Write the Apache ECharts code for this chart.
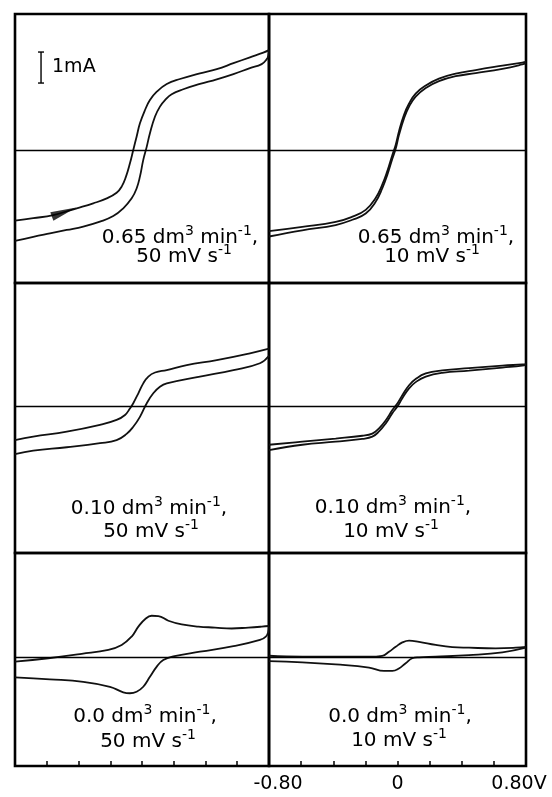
<!DOCTYPE html>
<html><head><meta charset="utf-8">
<script src="https://cdn.jsdelivr.net/npm/echarts@6/dist/echarts.min.js"></script>
<style>html,body{margin:0;padding:0;background:#fff}#c{width:552px;height:797px}</style>
</head><body><div id="c"></div>
<script>
// ---- data (potential V, current mA) ----
const tickValues = [-0.8, 0, 0.8];
const tickLabels = ['-0.80', '0', '0.80V'];

const flowRates = ['0.65', '0.65', '0.10', '0.10', '0.0', '0.0'];
const scanRates = ['50', '10', '50', '10', '50', '10'];

const scaleBar = { v: -0.636, from: 2.16, to: 3.16, label: '1mA' };
const arrowPoint = [[-0.491, -2.0]];

const tlFwd = [[-0.8,-2.28],[-0.685,-2.20],[-0.559,-2.10],[-0.411,-1.88],[-0.307,-1.72],[-0.222,-1.56],[-0.16,-1.38],[-0.128,-1.18],[-0.101,-0.86],[-0.076,-0.43],[-0.055,0],[-0.034,0.43],[-0.013,0.86],[0.019,1.29],[0.05,1.61],[0.093,1.88],[0.156,2.13],[0.239,2.29],[0.365,2.47],[0.471,2.61],[0.576,2.80],[0.68,2.99],[0.764,3.14],[0.8,3.22]];
const tlRev = [[0.8,3.22],[0.796,3.05],[0.786,2.93],[0.754,2.77],[0.68,2.64],[0.576,2.45],[0.471,2.28],[0.365,2.13],[0.26,1.96],[0.187,1.80],[0.145,1.61],[0.113,1.40],[0.082,1.08],[0.05,0.54],[0.03,0.11],[0.008,-0.32],[-0.013,-0.86],[-0.034,-1.24],[-0.065,-1.56],[-0.118,-1.88],[-0.181,-2.13],[-0.265,-2.31],[-0.37,-2.47],[-0.474,-2.58],[-0.58,-2.69],[-0.685,-2.80],[-0.8,-2.93]];

const trFwd = [[-0.8,-2.62],[-0.593,-2.48],[-0.385,-2.32],[-0.281,-2.15],[-0.198,-1.93],[-0.136,-1.55],[-0.095,-1.12],[-0.064,-0.69],[-0.032,-0.16],[-0.011,0.17],[0.009,0.60],[0.04,1.13],[0.072,1.50],[0.113,1.82],[0.176,2.08],[0.258,2.30],[0.362,2.46],[0.487,2.58],[0.653,2.72],[0.777,2.82],[0.8,2.84]];
const trRev = [[0.8,2.80],[0.777,2.76],[0.653,2.62],[0.487,2.48],[0.362,2.38],[0.258,2.22],[0.176,2.00],[0.113,1.72],[0.072,1.40],[0.04,1.01],[0.009,0.48],[-0.011,0.05],[-0.032,-0.28],[-0.064,-0.81],[-0.095,-1.24],[-0.136,-1.67],[-0.198,-2.05],[-0.281,-2.25],[-0.385,-2.42],[-0.593,-2.59],[-0.8,-2.79]];

const mlFwd = [[-0.8,-1.10],[-0.685,-0.99],[-0.474,-0.83],[-0.265,-0.61],[-0.16,-0.45],[-0.107,-0.29],[-0.076,-0.08],[-0.055,0.09],[-0.023,0.41],[0.008,0.73],[0.04,0.95],[0.082,1.08],[0.156,1.16],[0.282,1.32],[0.471,1.48],[0.68,1.70],[0.8,1.85]];
const mlRev = [[0.8,1.62],[0.743,1.38],[0.576,1.16],[0.365,0.95],[0.156,0.73],[0.113,0.62],[0.071,0.41],[0.03,0.09],[-0.013,-0.35],[-0.055,-0.67],[-0.097,-0.90],[-0.16,-1.10],[-0.265,-1.20],[-0.474,-1.33],[-0.685,-1.44],[-0.8,-1.55]];

const mrFwd = [[-0.8,-1.25],[-0.593,-1.15],[-0.385,-1.05],[-0.219,-0.96],[-0.157,-0.89],[-0.115,-0.72],[-0.073,-0.46],[-0.032,-0.13],[-0.001,0.08],[0.03,0.35],[0.072,0.67],[0.113,0.87],[0.176,1.05],[0.279,1.15],[0.445,1.22],[0.653,1.30],[0.777,1.34],[0.8,1.35]];
const mrRev = [[0.8,1.33],[0.777,1.30],[0.653,1.24],[0.445,1.14],[0.279,1.07],[0.176,0.95],[0.113,0.77],[0.072,0.57],[0.03,0.25],[-0.001,-0.02],[-0.032,-0.23],[-0.073,-0.56],[-0.115,-0.82],[-0.157,-0.99],[-0.219,-1.06],[-0.385,-1.15],[-0.593,-1.25],[-0.8,-1.42]];

const blFwd = [[-0.8,-0.15],[-0.59,-0.04],[-0.38,0.10],[-0.212,0.23],[-0.128,0.39],[-0.065,0.66],[-0.023,0.98],[0.019,1.22],[0.061,1.33],[0.103,1.32],[0.166,1.17],[0.25,1.05],[0.355,0.98],[0.46,0.95],[0.565,0.92],[0.67,0.95],[0.754,0.98],[0.8,1.0]];
const blRev = [[0.8,0.98],[0.795,0.80],[0.78,0.66],[0.743,0.55],[0.576,0.35],[0.365,0.17],[0.197,0.02],[0.134,-0.10],[0.093,-0.31],[0.05,-0.64],[0.008,-0.96],[-0.034,-1.12],[-0.076,-1.17],[-0.118,-1.14],[-0.202,-0.96],[-0.37,-0.80],[-0.58,-0.72],[-0.8,-0.66]];

const brFwd = [[-0.8,0.04],[-0.593,0.01],[-0.385,0.01],[-0.177,0.01],[-0.095,0.04],[-0.053,0.17],[-0.011,0.33],[0.03,0.47],[0.072,0.53],[0.134,0.49],[0.238,0.39],[0.341,0.32],[0.445,0.30],[0.611,0.28],[0.736,0.30],[0.8,0.33]];
const brRev = [[0.8,0.30],[0.653,0.15],[0.445,0.06],[0.238,0.01],[0.134,-0.01],[0.092,-0.04],[0.051,-0.20],[0.009,-0.37],[-0.032,-0.45],[-0.084,-0.45],[-0.177,-0.34],[-0.385,-0.24],[-0.593,-0.17],[-0.8,-0.13]];

const panelData = [[tlFwd, tlRev],[trFwd, trRev],[mlFwd, mlRev],[mrFwd, mrRev],[blFwd, blRev],[brFwd, brRev]];

// ---- layout ----
const FONT = 'DejaVu Sans';
const grids = [
  {left:15, top:14, width:254, height:269},
  {left:269, top:14, width:257, height:269},
  {left:15, top:283, width:254, height:270},
  {left:269, top:283, width:257, height:270},
  {left:15, top:553, width:254, height:213},
  {left:269, top:553, width:257, height:213}
];
const yRanges = [[-4.290,4.387],[-4.290,4.387],[-4.742,3.968],[-4.742,3.968],[-3.516,3.355],[-3.516,3.355]];
const labelPos = [
  [[180,236],[184,255]],
  [[436,236],[432,255]],
  [[149,507],[151,530]],
  [[393,506],[391,530]],
  [[145,715],[148,740]],
  [[400,715],[399,739]]
];

const chart = echarts.init(document.getElementById('c'), null, {renderer:'canvas'});

const xAxes = grids.map((g, i) => {
  const bottom = i >= 4;
  const labels = i === 5;
  return {
    type:'value', gridIndex:i, min:-0.8, max:0.8, interval:0.2, position:'bottom',
    axisLine:{show:false, onZero:false}, splitLine:{show:false},
    axisTick:{show:bottom, inside:true, length:5, lineStyle:{color:'#000', width:1.5}},
    axisLabel:{
      show:labels, margin:9, showMinLabel:true, showMaxLabel:true,
      fontFamily:FONT, fontSize:19, color:'#000',
      formatter:function(v){
        for (let k=0;k<tickValues.length;k++){
          if (Math.abs(v-tickValues[k])<1e-6) return '{' + ['l','m','r'][k] + '|' + tickLabels[k] + '}';
        }
        return '';
      },
      rich:{
        l:{fontFamily:FONT, fontSize:19, color:'#000', padding:[0,0,0,18]},
        m:{fontFamily:FONT, fontSize:19, color:'#000'},
        r:{fontFamily:FONT, fontSize:19, color:'#000', padding:[0,14,0,0]}
      }
    }
  };
});
const yAxes = grids.map((g, i) => ({type:'value', gridIndex:i, min:yRanges[i][0], max:yRanges[i][1], show:false}));

const series = [];
panelData.forEach((pair, i) => {
  pair.forEach((d, j) => {
    const s = {
      type:'line', xAxisIndex:i, yAxisIndex:i, data:d, smooth:0.45,
      showSymbol:false, symbol:'none', silent:true,
      lineStyle:{color:'#111', width:1.8}
    };
    if (j === 0) {
      s.markLine = {silent:true, symbol:'none', label:{show:false}, animation:false,
        lineStyle:{color:'#000', width:1.4, type:'solid'}, data:[{yAxis:0}]};
    }
    series.push(s);
  });
});
series.push({type:'scatter', xAxisIndex:0, yAxisIndex:0, data:arrowPoint,
  symbol:'path://M0,0 L26,4.5 L0,9 Z', symbolSize:[26,9], symbolRotate:20,
  itemStyle:{color:'#000'}, silent:true, z:5});

chart.setOption({
  animation:false,
  backgroundColor:'#fff',
  grid: grids.map(g => Object.assign({show:true, borderColor:'#000', borderWidth:2.6, backgroundColor:'transparent', containLabel:false}, g)),
  xAxis:xAxes, yAxis:yAxes, series:series
});

// annotations
const graphics = [];
const rich = {
  n:{fontFamily:FONT, fontSize:20, lineHeight:23, fill:'#000', verticalAlign:'bottom'},
  s:{fontFamily:FONT, fontSize:14, lineHeight:15, fill:'#000', verticalAlign:'top'}
};
labelPos.forEach((lp, i) => {
  const t1 = '{n|' + flowRates[i] + ' dm}{s|3}{n| min}{s|-1}{n|,}';
  const t2 = '{n|' + scanRates[i] + ' mV s}{s|-1}';
  [t1, t2].forEach((t, k) => {
    graphics.push({type:'text', x:lp[k][0], y:lp[k][1], silent:true,
      style:{text:t, rich:rich, align:'center', verticalAlign:'middle', fill:'#000', font:'20px ' + FONT}});
  });
});
// scale bar via library scale
const pLo = chart.convertToPixel({gridIndex:0}, [scaleBar.v, scaleBar.from]);
const pHi = chart.convertToPixel({gridIndex:0}, [scaleBar.v, scaleBar.to]);
graphics.push({type:'line', silent:true, shape:{x1:pLo[0], y1:pLo[1], x2:pHi[0], y2:pHi[1]}, style:{stroke:'#000', lineWidth:1.4}});
graphics.push({type:'line', silent:true, shape:{x1:pLo[0]-3, y1:pLo[1], x2:pLo[0]+3, y2:pLo[1]}, style:{stroke:'#000', lineWidth:1.4}});
graphics.push({type:'line', silent:true, shape:{x1:pHi[0]-3, y1:pHi[1], x2:pHi[0]+3, y2:pHi[1]}, style:{stroke:'#000', lineWidth:1.4}});
graphics.push({type:'text', silent:true, x:pLo[0]+11, y:(pLo[1]+pHi[1])/2,
  style:{text:scaleBar.label, font:'19px ' + FONT, fill:'#000', align:'left', verticalAlign:'middle'}});

chart.setOption({graphic:graphics});
</script></body></html>
